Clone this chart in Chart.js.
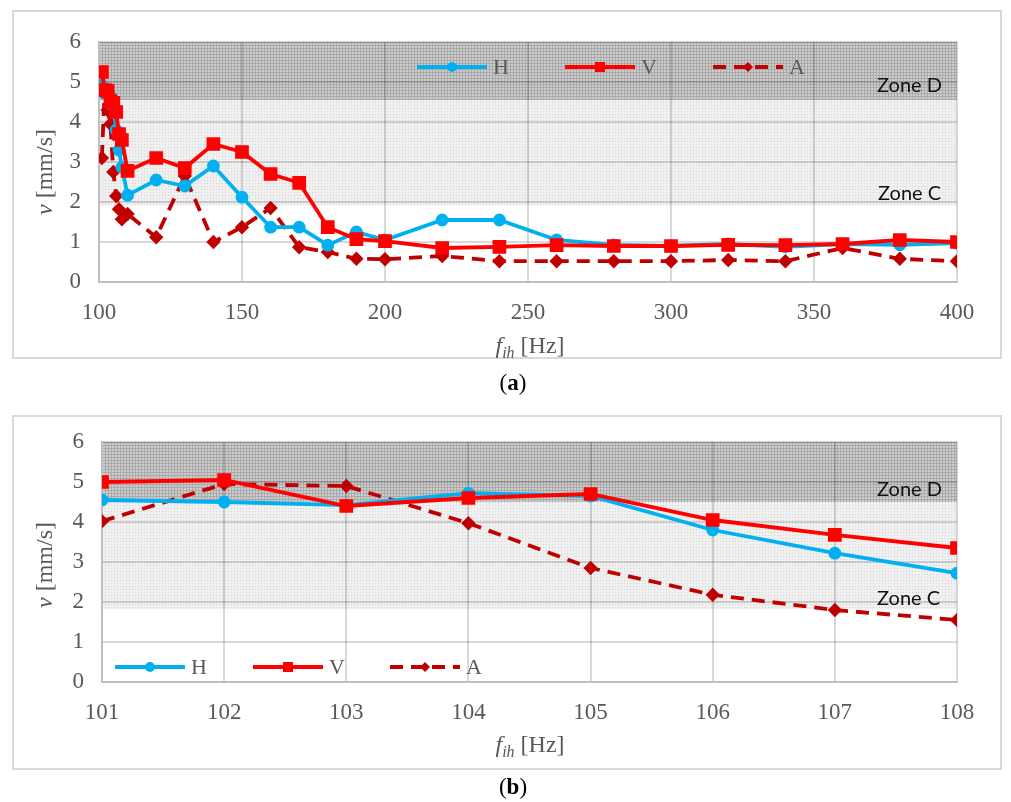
<!DOCTYPE html>
<html>
<head>
<meta charset="utf-8">
<script src="https://cdn.jsdelivr.net/npm/chart.js@4.4.1/dist/chart.umd.min.js"></script>
<style>
  body { margin: 0; background: #fff; }
  #page { position: relative; width: 1011px; height: 802px; overflow: hidden; font-family: "Liberation Serif", serif; }
  .box { position: absolute; left: 12px; width: 990px; border: 2px solid #d9d9d9; box-sizing: border-box; }
  canvas { position: absolute; left: 0; }
  .ytitle, .xtitle { position: absolute; color: #595959; font-size: 24px; white-space: nowrap; }
  .ytitle { transform: translate(-50%, -50%) rotate(-90deg); }
  .xtitle { transform: translate(-50%, -50%); }
  .xtitle sub { font-size: 16px; }
  .cap { position: absolute; font-size: 23px; color: #000; transform: translate(-50%, -50%); }
  .zone { position: absolute; font-family: Lato, sans-serif; font-size: 20px; color: #111; transform: translateY(-50%); }
  .leg { position: absolute; display: flex; align-items: center; color: #595959; font-size: 22px; transform: translateY(-50%); }
  .leg svg { margin-right: 6px; }
</style>
</head>
<body>
<div id="page">
  <div class="box" style="top:10px;height:349px"></div>
  <div class="box" style="top:415px;height:355px"></div>
  <canvas id="chartA" width="1011" height="400" style="top:0"></canvas>
  <canvas id="chartB" width="1011" height="402" style="top:400px"></canvas>

  <div class="ytitle" style="left:44px;top:172px"><i>v</i> [mm/s]</div>
  <div class="xtitle" style="left:530px;top:347px"><i>f</i><sub><i>ih</i></sub> [Hz]</div>
  <div class="cap" style="left:513px;top:383px">(<b>a</b>)</div>
  <div class="zone" style="left:877px;top:84px">Zone D</div>
  <div class="zone" style="left:878px;top:192px">Zone C</div>

  <div class="ytitle" style="left:44px;top:565px"><i>v</i> [mm/s]</div>
  <div class="xtitle" style="left:530px;top:746px"><i>f</i><sub><i>ih</i></sub> [Hz]</div>
  <div class="cap" style="left:513px;top:787px">(<b>b</b>)</div>
  <div class="zone" style="left:877px;top:488px">Zone D</div>
  <div class="zone" style="left:877px;top:597px">Zone C</div>
</div>
<script>
// (a) whole frequency sweep
const freqA = [101, 102, 103, 104, 105, 106, 107, 108, 110, 120, 130, 140, 150, 160, 170, 180, 190, 200, 220, 240, 260, 280, 300, 320, 340, 360, 380, 400];
const hA = [4.92, 4.72, 4.7, 4.65, 4.4, 3.8, 3.3, 2.87, 2.17, 2.55, 2.4, 2.9, 2.12, 1.37, 1.37, 0.92, 1.25, 1.05, 1.55, 1.55, 1.05, 0.93, 0.9, 0.95, 0.88, 0.95, 0.93, 0.97];
const vA = [5.25, 4.8, 4.78, 4.52, 4.48, 4.25, 3.7, 3.55, 2.78, 3.1, 2.85, 3.45, 3.25, 2.7, 2.48, 1.37, 1.07, 1.02, 0.85, 0.88, 0.92, 0.9, 0.9, 0.93, 0.92, 0.95, 1.05, 1.0];
const aA = [3.1, 4.8, 4.3, 3.95, 2.75, 2.15, 1.82, 1.57, 1.7, 1.12, 2.65, 1.0, 1.37, 1.85, 0.87, 0.75, 0.58, 0.57, 0.65, 0.52, 0.52, 0.52, 0.52, 0.55, 0.52, 0.85, 0.58, 0.52];

// (b) zoom on 101-108 Hz
const freqB = [101, 102, 103, 104, 105, 106, 107, 108];
const hB = [4.55, 4.5, 4.42, 4.72, 4.65, 3.8, 3.22, 2.72];
const vB = [5.0, 5.05, 4.4, 4.6, 4.7, 4.05, 3.68, 3.35];
const aB = [4.02, 4.95, 4.9, 3.97, 2.85, 2.18, 1.8, 1.55];

// zone limits [bottom, top] in mm/s as drawn
const zoneCA = [1.92, 4.55];
const zoneDA = [4.55, 6];
const zoneCB = [1.82, 4.5];
const zoneDB = [4.5, 6];

const seriesNames = ["H", "V", "A"];
const grey = "#595959";

Chart.defaults.font.family = "Liberation Serif";
Chart.defaults.font.size = 23;
const tickFont = { family: "Liberation Serif", size: 23 };

function makePattern(bg, fg, lines) {
  const c = document.createElement("canvas");
  c.width = 3; c.height = 3;
  const g = c.getContext("2d");
  g.fillStyle = bg; g.fillRect(0, 0, 3, 3);
  g.fillStyle = fg;
  if (lines) { g.fillRect(0, 0, 3, 1); g.fillRect(0, 0, 1, 3); }
  else g.fillRect(0, 0, 1, 1);
  return g.createPattern(c, "repeat");
}
const patD = makePattern("#cdcdcd", "#aaaaaa", true);
const patC = makePattern("#f0f0f0", "#d4d4d4", false);

const zonePlugin = {
  id: "zones",
  beforeDraw(chart, args, opts) {
    const { ctx, chartArea, scales } = chart;
    const y = scales.y;
    [[opts.c, patC], [opts.d, patD]].forEach(([z, p]) => {
      const top = y.getPixelForValue(z[1]);
      const bot = y.getPixelForValue(z[0]);
      ctx.save();
      ctx.fillStyle = p;
      ctx.fillRect(chartArea.left, top, chartArea.right - chartArea.left, bot - top);
      ctx.restore();
    });
  }
};

function pts(xs, ys) { return xs.map((x, i) => ({ x: x, y: ys[i] })); }

const styles = [
  { borderColor: "#00b0f0", pointStyle: "circle", pointRadius: 4.5, borderDash: [], order: 1 },
  { borderColor: "#ff0000", pointStyle: "rect", pointRadius: 7, borderDash: [], order: 0 },
  { borderColor: "#c00000", pointStyle: "rectRot", pointRadius: 4.5, borderDash: [13, 8], order: 2 }
];

function makeChart(id, freq, series, xMin, xMax, xStep, zc, zd, leftW, bottomH) {
  new Chart(document.getElementById(id), {
    type: "line",
    data: {
      datasets: series.map((s, i) => ({
        label: seriesNames[i],
        data: pts(freq, s),
        borderColor: styles[i].borderColor,
        backgroundColor: styles[i].borderColor,
        pointBorderColor: styles[i].borderColor,
        pointBackgroundColor: styles[i].borderColor,
        pointStyle: styles[i].pointStyle,
        pointRadius: styles[i].pointRadius,
        borderDash: styles[i].borderDash,
        borderWidth: 3.8,
        tension: 0,
        order: styles[i].order
      }))
    },
    options: {
      responsive: false,
      animation: false,
      devicePixelRatio: 1,
      events: [],
      layout: { padding: { left: 0, right: 54, top: 42, bottom: 0 } },
      plugins: {
        legend: { display: false },
        tooltip: { enabled: false },
        zones: { c: zc, d: zd }
      },
      scales: {
        x: {
          type: "linear", min: xMin, max: xMax,
          ticks: { stepSize: xStep, padding: 17, color: grey, font: tickFont },
          grid: { color: "rgba(0,0,0,0.15)", lineWidth: 2, drawTicks: false },
          border: { color: "#bfbfbf", width: 2 },
          afterFit: s => { s.height = bottomH; }
        },
        y: {
          min: 0, max: 6,
          ticks: { stepSize: 1, padding: 18, color: grey, font: tickFont },
          grid: { color: "rgba(0,0,0,0.15)", lineWidth: 2, drawTicks: false },
          border: { color: "#bfbfbf", width: 2 },
          afterFit: s => { s.width = leftW; }
        }
      }
    },
    plugins: [zonePlugin]
  });
}

// legends inside the plot areas
function legendSymbol(st) {
  const col = st.borderColor;
  let line = st.borderDash.length
    ? '<line x1="0" y1="7" x2="70" y2="7" stroke="' + col + '" stroke-width="4" stroke-dasharray="13 8"/>'
    : '<line x1="0" y1="7" x2="70" y2="7" stroke="' + col + '" stroke-width="4"/>';
  let mark = "";
  if (st.pointStyle === "circle") mark = '<circle cx="35" cy="7" r="5" fill="' + col + '"/>';
  else if (st.pointStyle === "rect") mark = '<rect x="30" y="2" width="10" height="10" fill="' + col + '"/>';
  else mark = '<polygon points="35,2 40,7 35,12 30,7" fill="' + col + '"/>';
  return '<svg width="70" height="14">' + line + mark + '</svg>';
}
function addLegend(xs, y) {
  const page = document.getElementById("page");
  seriesNames.forEach((n, i) => {
    const d = document.createElement("div");
    d.className = "leg";
    d.style.left = xs[i] + "px";
    d.style.top = y + "px";
    d.innerHTML = legendSymbol(styles[i]) + "<span>" + n + "</span>";
    page.appendChild(d);
  });
}

function drawAll() {
  makeChart("chartA", freqA, [hA, vA, aA], 100, 400, 50, zoneCA, zoneDA, 99, 118);
  makeChart("chartB", freqB, [hB, vB, aB], 101, 108, 1, zoneCB, zoneDB, 102, 120);
  addLegend([417, 565, 713], 67);
  addLegend([115, 253, 390], 667);
}

if (document.fonts && document.fonts.load) {
  document.fonts.load("23px 'Liberation Serif'").then(drawAll, drawAll);
} else {
  drawAll();
}
</script>
</body>
</html>
